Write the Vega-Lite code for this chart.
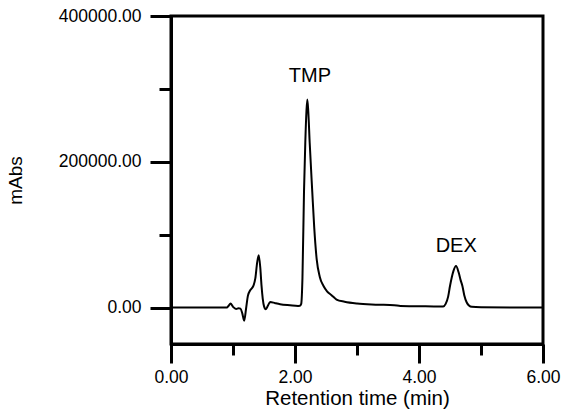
{
  "$schema": "https://vega.github.io/schema/vega-lite/v6.json",
  "width": 372,
  "height": 328,
  "autosize": {"type": "none"},
  "padding": {"left": 171, "top": 16, "right": 21, "bottom": 66},
  "background": "white",
  "config": {
    "font": "Liberation Sans",
    "view": {"stroke": "black", "strokeWidth": 3},
    "axis": {"grid": false, "domainColor": "black", "domainWidth": 3, "tickColor": "black", "tickWidth": 3, "labelColor": "black", "titleColor": "black", "labelFont": "Liberation Sans", "titleFont": "Liberation Sans", "labelFlush": false, "labelOverlap": false, "labelBound": false, "titleFontWeight": "normal"}
  },
  "datasets": {
    "chrom": [
      {"t": 0.00, "v": 0}, {"t": 0.50, "v": 0}, {"t": 0.90, "v": 0}, {"t": 0.93, "v": 2500},
      {"t": 0.96, "v": 5500}, {"t": 1.00, "v": 1000}, {"t": 1.05, "v": -2000}, {"t": 1.09, "v": -1000},
      {"t": 1.12, "v": -1500}, {"t": 1.15, "v": -8000}, {"t": 1.18, "v": -18000}, {"t": 1.21, "v": -2000},
      {"t": 1.24, "v": 16000}, {"t": 1.28, "v": 24000}, {"t": 1.33, "v": 30000}, {"t": 1.36, "v": 40000},
      {"t": 1.39, "v": 62000}, {"t": 1.415, "v": 71700}, {"t": 1.44, "v": 55000}, {"t": 1.46, "v": 30000},
      {"t": 1.48, "v": 12000}, {"t": 1.50, "v": 2000}, {"t": 1.53, "v": -2300}, {"t": 1.56, "v": 2000},
      {"t": 1.60, "v": 7700}, {"t": 1.68, "v": 6000}, {"t": 1.76, "v": 4500}, {"t": 1.92, "v": 3100},
      {"t": 2.05, "v": 2200}, {"t": 2.08, "v": 2400}, {"t": 2.10, "v": 5000}, {"t": 2.12, "v": 40000},
      {"t": 2.145, "v": 158000}, {"t": 2.166, "v": 226000}, {"t": 2.185, "v": 270000}, {"t": 2.199, "v": 285500},
      {"t": 2.215, "v": 268000}, {"t": 2.237, "v": 226000}, {"t": 2.279, "v": 158000}, {"t": 2.31, "v": 110000},
      {"t": 2.35, "v": 66000}, {"t": 2.40, "v": 42000}, {"t": 2.46, "v": 29600}, {"t": 2.52, "v": 22000},
      {"t": 2.59, "v": 17000}, {"t": 2.67, "v": 11000}, {"t": 2.80, "v": 8000}, {"t": 3.00, "v": 5500},
      {"t": 3.30, "v": 4000}, {"t": 3.60, "v": 3200}, {"t": 3.70, "v": 2200}, {"t": 4.00, "v": 1800},
      {"t": 4.34, "v": 1400}, {"t": 4.39, "v": 1500}, {"t": 4.43, "v": 5000}, {"t": 4.47, "v": 15000},
      {"t": 4.50, "v": 29600}, {"t": 4.53, "v": 42000}, {"t": 4.555, "v": 50000}, {"t": 4.597, "v": 57000},
      {"t": 4.64, "v": 48000}, {"t": 4.67, "v": 38000}, {"t": 4.70, "v": 29600}, {"t": 4.73, "v": 17000},
      {"t": 4.77, "v": 7000}, {"t": 4.81, "v": 2500}, {"t": 4.85, "v": 1000}, {"t": 5.00, "v": 500},
      {"t": 5.50, "v": 200}, {"t": 6.00, "v": 0}
    ],
    "peaks": [
      {"t": 2.24, "v": 309000, "label": "TMP"},
      {"t": 4.60, "v": 75800, "label": "DEX"}
    ]
  },
  "layer": [
    {
      "data": {"name": "chrom"},
      "mark": {"type": "line", "color": "black", "strokeWidth": 2, "interpolate": "monotone"},
      "encoding": {
        "x": {"field": "t", "type": "quantitative", "scale": {"domain": [0, 6], "nice": false, "zero": false},
          "axis": {"orient": "bottom", "values": [0, 2, 4, 6], "format": ".2f", "tickSize": 19, "labelFontSize": 17.5, "labelPadding": 5, "title": "Retention time (min)", "titleFontSize": 20.5, "titlePadding": 3}},
        "y": {"field": "v", "type": "quantitative", "scale": {"domain": [-50000, 400000], "nice": false, "zero": false},
          "axis": {"orient": "left", "values": [0, 200000, 400000], "format": ".2f", "tickSize": 21, "labelFontSize": 17.5, "labelPadding": 9, "title": "mAbs", "titleFontSize": 19, "titlePadding": 33}}
      }
    },
    {
      "data": {"name": "chrom"},
      "mark": {"type": "line", "strokeOpacity": 0},
      "encoding": {
        "x": {"field": "t", "type": "quantitative", "scale": {"domain": [0, 6], "nice": false, "zero": false},
          "axis": {"orient": "bottom", "values": [1, 3, 5], "tickSize": 11, "labels": false, "domain": false, "title": null}},
        "y": {"field": "v", "type": "quantitative", "scale": {"domain": [-50000, 400000], "nice": false, "zero": false},
          "axis": {"orient": "left", "values": [100000, 300000], "tickSize": 12, "labels": false, "domain": false, "title": null}}
      }
    },
    {
      "data": {"name": "peaks"},
      "mark": {"type": "text", "font": "Liberation Sans", "fontSize": 20, "baseline": "alphabetic", "align": "center", "color": "black"},
      "encoding": {
        "x": {"field": "t", "type": "quantitative", "axis": null},
        "y": {"field": "v", "type": "quantitative", "axis": null},
        "text": {"field": "label"}
      }
    }
  ],
  "resolve": {"axis": {"x": "independent", "y": "independent"}}
}
